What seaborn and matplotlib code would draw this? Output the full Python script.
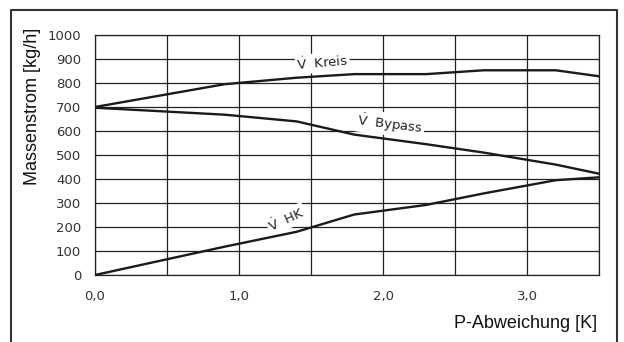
import matplotlib
matplotlib.use("Agg")
import matplotlib.pyplot as plt
import seaborn as sns
import pandas as pd
from matplotlib.lines import Line2D
from matplotlib.ticker import MultipleLocator, FuncFormatter

# data
abweichung = [0.0, 0.9, 1.4, 1.8, 2.3, 2.7, 3.2, 3.5]
kreis = [700, 795, 822, 837, 837, 853, 853, 828]
bypass = [697, 668, 640, 585, 545, 510, 460, 422]
hk = [0, 118, 180, 252, 292, 340, 395, 407]

df = pd.DataFrame({"x": abweichung, "Kreis": kreis, "Bypass": bypass, "HK": hk})

sns.set_style("white")
plt.rcParams['font.family'] = ['DejaVu Sans']
plt.rcParams['mathtext.fontset'] = 'dejavusans'

fig = plt.figure(figsize=(6.24, 3.42), dpi=100)
ax = fig.add_axes([95/624, 1-275/342, 504/624, 240/342])

for col in ["Kreis", "Bypass", "HK"]:
    sns.lineplot(data=df, x="x", y=col, ax=ax, color="#1a1a1a", lw=1.7, zorder=5)

ax.set_xlim(0, 3.5)
ax.set_ylim(0, 1000)
ax.xaxis.set_major_locator(MultipleLocator(0.5))
ax.yaxis.set_major_locator(MultipleLocator(100))
ax.xaxis.set_major_formatter(FuncFormatter(
    lambda v, p: ("%.1f" % v).replace(".", ",") if abs(v - round(v)) < 1e-6 and v < 3.4 else ""))
ax.grid(True, color="#222222", lw=0.9)
for s in ax.spines.values():
    s.set_color("#222222")
    s.set_linewidth(0.9)
ax.tick_params(length=0, labelsize=9.5, labelcolor="#333333")
ax.tick_params(axis="x", pad=11)
ax.tick_params(axis="y", pad=10)
ax.set_xlabel("")
ax.set_ylabel("")

lab = dict(fontsize=9.5, color="#222222", ha="center", va="center", zorder=4,
           bbox=dict(facecolor="white", edgecolor="none", pad=1.0))
vdot = r"$\dot{\mathrm{V}}$"
ax.text(1.58, 885, vdot + "  Kreis", rotation=5, **lab)
ax.text(2.05, 628, vdot + "  Bypass", rotation=-7, **lab)
ax.text(1.33, 232, vdot + "  HK", rotation=25, **lab)

fig.text(33/624, 1-28/342, "Massenstrom [kg/h]", rotation=90, ha="center", va="top",
         fontsize=13, family="Liberation Sans", color="#111111")
fig.text(597/624, 1-323/342, "P-Abweichung [K]", ha="right", va="center",
         fontsize=13, family="Liberation Sans", color="#111111")

# outer frame (left, top, right)
fx0, fx1, fy = 11/624, 617/624, 1-9.5/342
fig.add_artist(Line2D([fx0, fx0, fx1, fx1], [0, fy, fy, 0], color="#333333", lw=1.5))

fig.savefig("out.png", dpi=100)
